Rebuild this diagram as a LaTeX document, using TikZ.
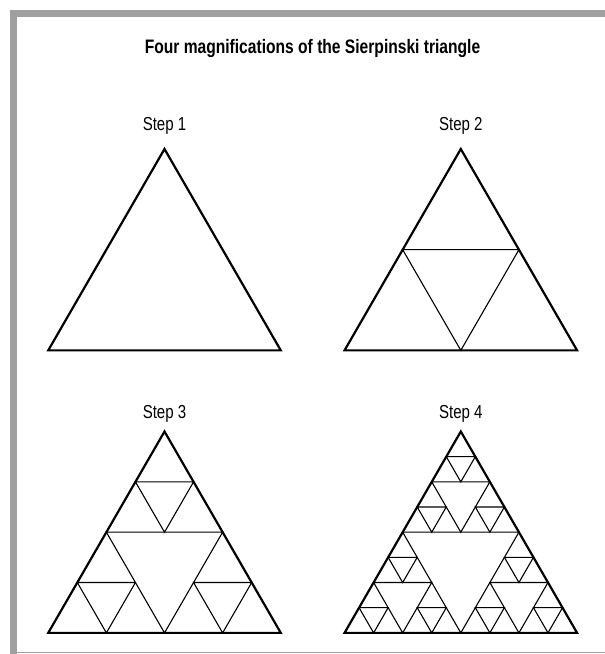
\documentclass[tikz,border=0pt]{standalone}
\usepackage{fontspec}
\newfontfamily\condsans{Liberation Sans}[FakeStretch=0.8]
\definecolor{framegray}{HTML}{A0A0A0}

\tikzset{
  outer tri/.style={line width=2.2bp, line join=miter},
  inner tri/.style={line width=1.1bp},
  titlelabel/.style={anchor=base, inner sep=0pt, font=\condsans\bfseries\fontsize{19.5bp}{23bp}\selectfont},
  steplabel/.style={anchor=base, inner sep=0pt, font=\condsans\fontsize{18.8bp}{22bp}\selectfont}
}

% depth, apex x, apex y, side
\newcommand\sierpfill[4]{%
  \ifnum#1>0\relax
  \begingroup
    \pgfmathsetmacro\ax{#2}\pgfmathsetmacro\ay{#3}\pgfmathsetmacro\sd{#4}%
    \pgfmathtruncatemacro\nd{#1-1}%
    \pgfmathsetmacro\hs{\sd/2}%
    \pgfmathsetmacro\lx{\ax-\sd/4}%
    \pgfmathsetmacro\rx{\ax+\sd/4}%
    \pgfmathsetmacro\my{\ay+\sd*0.4330127}%
    \pgfmathsetmacro\by{\ay+\sd*0.8660254}%
    \draw[inner tri] (\lx,\my) -- (\rx,\my) -- (\ax,\by) -- cycle;
    \sierpfill{\nd}{\ax}{\ay}{\hs}%
    \sierpfill{\nd}{\lx}{\my}{\hs}%
    \sierpfill{\nd}{\rx}{\my}{\hs}%
  \endgroup
  \fi}

\begin{document}
\begin{tikzpicture}[x=1bp,y=-1bp]
  \useasboundingbox (0,0) rectangle (605,654);
  % frame
  \fill[framegray] (10,10) rectangle (605,17);
  \fill[framegray] (10,10) rectangle (17,654);
  \draw[framegray, line width=1.5bp] (17,652.5) -- (605,652.5);

  \node[titlelabel] (title) at (312.5,53.3) {Four magnifications of the Sierpinski triangle};

  \node[steplabel] (lbl1) at (164.5,130.7) {Step 1};
  \node[steplabel] (lbl2) at (460.8,130.7) {Step 2};
  \node[steplabel] (lbl3) at (164.5,418.3) {Step 3};
  \node[steplabel] (lbl4) at (460.8,418.3) {Step 4};

  % apexes of the four triangles
  \coordinate (top1) at (164.5,149);
  \coordinate (top2) at (460.8,149);
  \coordinate (top3) at (164.5,431.5);
  \coordinate (top4) at (460.8,431.5);

  \sierpfill{1}{460.8}{149}{232.5}
  \sierpfill{2}{164.5}{431.5}{232.5}
  \sierpfill{3}{460.8}{431.5}{232.5}

  \foreach \t in {top1,top2,top3,top4}
    \draw[outer tri] (\t) -- ++(116.25,201.35) -- ++(-232.5,0) -- cycle;
\end{tikzpicture}
\end{document}
